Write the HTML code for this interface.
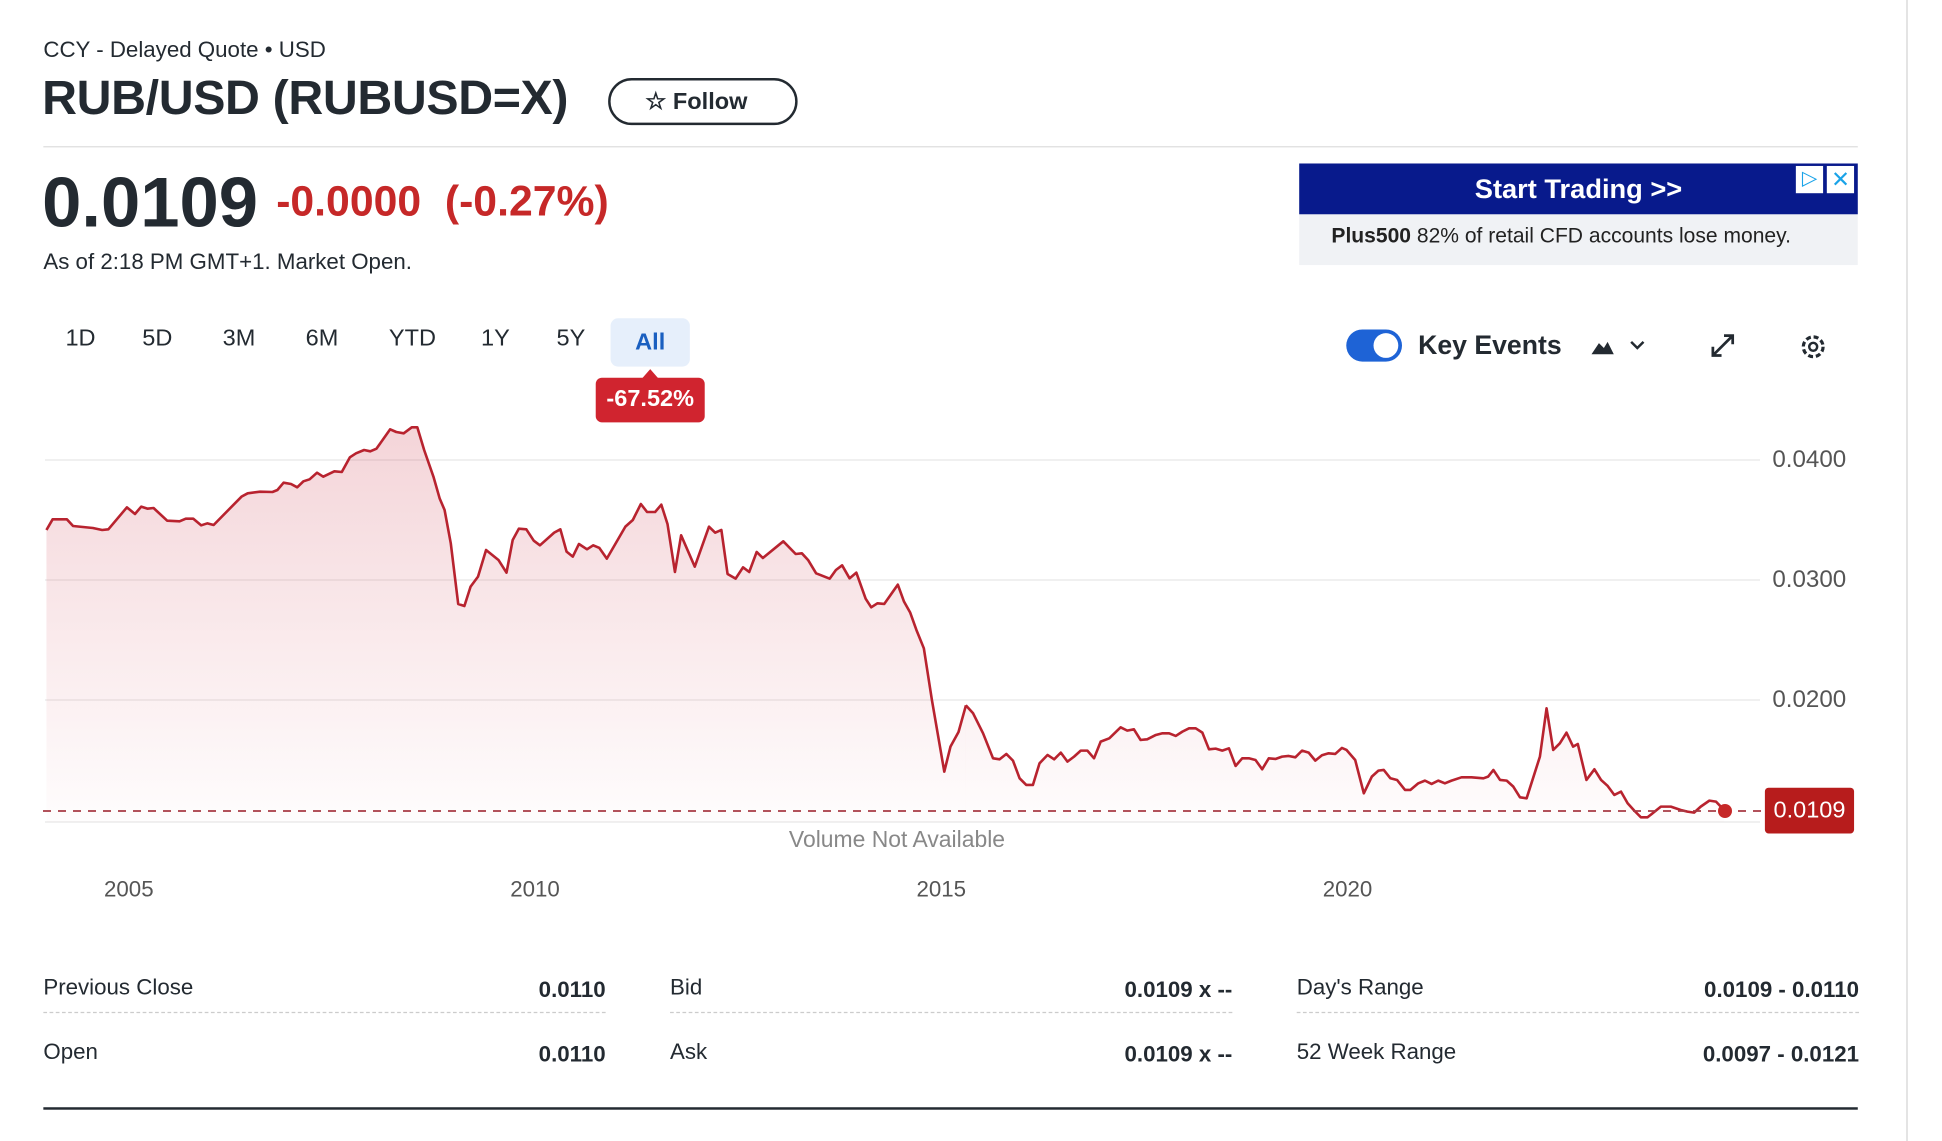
<!DOCTYPE html>
<html><head><meta charset="utf-8"><style>
html,body{margin:0;padding:0;background:#fff;width:1942px;height:1141px;overflow:hidden;font-family:"Liberation Sans",sans-serif;color:#232a31}
#w{position:absolute;left:0;top:0;width:1568px;height:921px;transform:scale(1.23852);transform-origin:0 0}
.a{position:absolute;white-space:nowrap}
.p{position:absolute;top:263px;font-size:19px;color:#232a31;transform:translateX(-50%)}
.yl{position:absolute;left:1431px;font-size:19.5px;color:#555}
.yr{position:absolute;top:708px;font-size:18px;color:#555;transform:translateX(-50%)}
.st{position:absolute;width:454px;height:30px;border-bottom:1px dashed #ccc;font-size:18px}
.st span{position:absolute;left:0;top:0}
.st b{position:absolute;right:0;top:2px;font-size:18px}
</style></head><body>
<svg style="position:absolute;left:0;top:0" width="1942" height="1141" viewBox="0 0 1942 1141">
<defs><linearGradient id="g" gradientUnits="userSpaceOnUse" x1="0" y1="60" x2="0" y2="1266"><stop offset="0" stop-color="#c8283c" stop-opacity="0.2"/><stop offset="1" stop-color="#c8283c" stop-opacity="0.01"/></linearGradient></defs>
<g stroke="#ececec" stroke-width="1.5"><line x1="45" y1="460" x2="1760" y2="460"/><line x1="45" y1="580" x2="1760" y2="580"/><line x1="45" y1="700" x2="1760" y2="700"/><line x1="45" y1="822" x2="1760" y2="822"/></g>
<g transform="translate(0,400) scale(0.6192,0.3333)">
<polygon fill="url(#g)" points="75,1266 75,390 85,358 108,358 118,378 150,384 165,390 175,388 205,322 218,342 228,320 238,326 248,324 270,362 290,364 300,356 312,356 325,376 335,370 345,375 390,290 400,280 420,275 440,276 448,270 458,248 470,252 480,262 490,244 500,238 512,218 522,230 540,214 552,216 565,172 575,160 588,150 598,154 608,146 630,88 640,96 652,100 665,82 674,82 685,150 700,230 710,295 718,330 728,430 740,612 750,618 760,560 772,530 785,450 805,480 818,518 828,420 838,386 850,388 862,422 872,436 895,398 905,388 915,455 925,470 935,432 948,448 958,436 968,444 980,476 1010,380 1022,360 1035,312 1045,336 1058,336 1068,314 1078,372 1090,516 1100,406 1122,500 1145,380 1155,398 1165,390 1175,522 1188,536 1200,502 1210,516 1222,456 1232,474 1265,424 1285,462 1295,460 1305,480 1318,520 1340,536 1350,510 1360,496 1372,535 1383,518 1398,596 1407,622 1417,610 1428,612 1450,554 1460,605 1470,638 1480,690 1492,745 1505,900 1525,1115 1535,1040 1548,996 1560,916 1560,1266"/>
<polyline fill="none" stroke="#b8232f" stroke-width="2.6" vector-effect="non-scaling-stroke" stroke-linejoin="round" points="75,390 85,358 108,358 118,378 150,384 165,390 175,388 205,322 218,342 228,320 238,326 248,324 270,362 290,364 300,356 312,356 325,376 335,370 345,375 390,290 400,280 420,275 440,276 448,270 458,248 470,252 480,262 490,244 500,238 512,218 522,230 540,214 552,216 565,172 575,160 588,150 598,154 608,146 630,88 640,96 652,100 665,82 674,82 685,150 700,230 710,295 718,330 728,430 740,612 750,618 760,560 772,530 785,450 805,480 818,518 828,420 838,386 850,388 862,422 872,436 895,398 905,388 915,455 925,470 935,432 948,448 958,436 968,444 980,476 1010,380 1022,360 1035,312 1045,336 1058,336 1068,314 1078,372 1090,516 1100,406 1122,500 1145,380 1155,398 1165,390 1175,522 1188,536 1200,502 1210,516 1222,456 1232,474 1265,424 1285,462 1295,460 1305,480 1318,520 1340,536 1350,510 1360,496 1372,535 1383,518 1398,596 1407,622 1417,610 1428,612 1450,554 1460,605 1470,638 1480,690 1492,745 1505,900 1525,1115 1535,1040 1548,996 1560,916"/>
</g>
<g transform="translate(900,400) scale(0.6645,0.3333)">
<polygon fill="url(#g)" points="99,1266 99,916 110,940 125,1000 140,1075 150,1078 160,1062 170,1082 180,1135 190,1155 200,1155 210,1090 222,1065 232,1078 242,1058 252,1085 262,1070 272,1052 282,1052 292,1075 302,1025 315,1015 332,982 342,992 352,988 362,1020 372,1018 385,1005 395,1000 405,1000 415,1008 425,995 435,985 445,985 455,998 465,1048 475,1046 485,1052 495,1045 505,1098 515,1075 525,1075 535,1080 545,1108 555,1075 565,1077 575,1070 585,1068 595,1072 605,1052 615,1058 625,1082 635,1066 645,1060 655,1062 665,1044 672,1050 685,1080 698,1180 710,1130 720,1112 728,1110 738,1135 748,1140 760,1170 768,1170 780,1150 790,1142 800,1152 810,1142 820,1150 830,1142 845,1132 860,1132 878,1135 885,1130 893,1110 903,1140 913,1142 923,1160 933,1192 943,1195 963,1070 973,925 983,1050 993,1030 1003,998 1013,1040 1020,1032 1033,1140 1045,1108 1055,1140 1065,1158 1075,1185 1085,1175 1095,1210 1105,1232 1115,1252 1125,1252 1145,1220 1160,1220 1175,1230 1185,1235 1195,1238 1205,1220 1218,1202 1228,1205 1240,1230 1240,1266"/>
<polyline fill="none" stroke="#b8232f" stroke-width="2.6" vector-effect="non-scaling-stroke" stroke-linejoin="round" points="99,916 110,940 125,1000 140,1075 150,1078 160,1062 170,1082 180,1135 190,1155 200,1155 210,1090 222,1065 232,1078 242,1058 252,1085 262,1070 272,1052 282,1052 292,1075 302,1025 315,1015 332,982 342,992 352,988 362,1020 372,1018 385,1005 395,1000 405,1000 415,1008 425,995 435,985 445,985 455,998 465,1048 475,1046 485,1052 495,1045 505,1098 515,1075 525,1075 535,1080 545,1108 555,1075 565,1077 575,1070 585,1068 595,1072 605,1052 615,1058 625,1082 635,1066 645,1060 655,1062 665,1044 672,1050 685,1080 698,1180 710,1130 720,1112 728,1110 738,1135 748,1140 760,1170 768,1170 780,1150 790,1142 800,1152 810,1142 820,1150 830,1142 845,1132 860,1132 878,1135 885,1130 893,1110 903,1140 913,1142 923,1160 933,1192 943,1195 963,1070 973,925 983,1050 993,1030 1003,998 1013,1040 1020,1032 1033,1140 1045,1108 1055,1140 1065,1158 1075,1185 1085,1175 1095,1210 1105,1232 1115,1252 1125,1252 1145,1220 1160,1220 1175,1230 1185,1235 1195,1238 1205,1220 1218,1202 1228,1205 1240,1230"/>
</g>
<line x1="43" y1="811" x2="1765" y2="811" stroke="#a83a44" stroke-width="1.8" stroke-dasharray="8,7"/>
<circle cx="1725" cy="811" r="7" fill="#c62828"/>
<line x1="1907" y1="0" x2="1907" y2="1141" stroke="#e4e4e4" stroke-width="2"/>
</svg>
<div id="w">
<div class="a" style="left:35px;top:30px;font-size:18px">CCY - Delayed Quote • USD</div>
<div class="a" style="left:34px;top:58px;font-size:39px;font-weight:bold;letter-spacing:-0.3px">RUB/USD (RUBUSD=X)</div>
<div class="a" style="left:491px;top:63px;width:149px;height:34px;border:2px solid #232a31;border-radius:20px;box-sizing:content-box"><span style="position:absolute;left:28px;top:6px;font-size:19px;font-weight:bold">☆ Follow</span></div>
<div class="a" style="left:35px;top:118px;width:1465px;height:1px;background:#ddd"></div>
<div class="a" style="left:34px;top:131px;font-size:57px;font-weight:bold;letter-spacing:0px">0.0109</div>
<div class="a" style="left:223px;top:144px;font-size:34.5px;font-weight:bold;color:#c62828">-0.0000 &nbsp;(-0.27%)</div>
<div class="a" style="left:35px;top:201px;font-size:18px">As of 2:18 PM GMT+1. Market Open.</div>
<div class="a" style="left:1049px;top:132px;width:451px;height:82px;background:#f0f2f5">
<div style="position:absolute;left:0;top:0;width:451px;height:41px;background:#081a8c;color:#fff;font-size:22px;font-weight:bold;text-align:center;line-height:42px">Start Trading &gt;&gt;</div>
<div style="position:absolute;left:401px;top:2px;width:22px;height:22px;background:#fff;color:#1aa3e8;font-size:16px;text-align:center;line-height:22px">▷</div>
<div style="position:absolute;left:426px;top:2px;width:22px;height:22px;background:#fff;color:#1aa3e8;font-size:18px;text-align:center;line-height:22px">✕</div>
<div style="position:absolute;left:26px;top:49px;font-size:17px;color:#222"><b>Plus500</b> 82% of retail CFD accounts lose money.</div>
</div>
<div class="p" style="left:65px">1D</div><div class="p" style="left:127px">5D</div><div class="p" style="left:193px">3M</div><div class="p" style="left:260px">6M</div><div class="p" style="left:333px">YTD</div><div class="p" style="left:400px">1Y</div><div class="p" style="left:461px">5Y</div>
<div class="a" style="left:493px;top:257px;width:64px;height:39px;background:#e6effb;border-radius:6px;color:#1a5fc0;font-weight:bold;font-size:19px;text-align:center;line-height:39px">All</div>
<div class="a" style="left:481px;top:305px;width:88px;height:36px;background:#d0242f;border-radius:5px;color:#fff;font-weight:bold;font-size:19px;text-align:center;line-height:36px">-67.52%</div>
<div class="a" style="left:518px;top:298px;width:0;height:0;border-left:7px solid transparent;border-right:7px solid transparent;border-bottom:8px solid #d0242f"></div>
<div class="a" style="left:1087px;top:266px;width:45px;height:26px;background:#1e63d6;border-radius:13px"><div style="position:absolute;left:22px;top:3px;width:20px;height:20px;border-radius:50%;background:#fff"></div></div>
<div class="a" style="left:1145px;top:267px;font-size:21.5px;font-weight:bold">Key Events</div>
<svg class="a" style="left:1283px;top:270px" width="50" height="20"><path d="M2 16 L8 7 L12 11 L15 6 L20 16 Z" fill="#232a31"/><path d="M34 6 L39 11 L44 6" fill="none" stroke="#232a31" stroke-width="2"/></svg>
<svg class="a" style="left:1380px;top:268px" width="22" height="22"><path d="M3 19 L19 3 M12 3 H19 V10 M3 12 V19 H10" fill="none" stroke="#232a31" stroke-width="2.2"/></svg>
<svg class="a" style="left:1452px;top:268px" width="24" height="24"><circle cx="12" cy="12" r="8" fill="none" stroke="#232a31" stroke-width="2.6" stroke-dasharray="4,2.3"/><circle cx="12" cy="12" r="3.2" fill="none" stroke="#232a31" stroke-width="2"/></svg>
<div class="yl" style="top:360px">0.0400</div><div class="yl" style="top:457px">0.0300</div><div class="yl" style="top:554px">0.0200</div>
<div class="a" style="left:1425px;top:636px;width:72px;height:37px;background:#b71c1c;border-radius:3px;color:#fff;font-size:19px;text-align:center;line-height:37px">0.0109</div>
<div class="a" style="left:637px;top:667px;font-size:18.5px;color:#888">Volume Not Available</div>
<div class="yr" style="left:104px">2005</div><div class="yr" style="left:432px">2010</div><div class="yr" style="left:760px">2015</div><div class="yr" style="left:1088px">2020</div>
<div class="st" style="left:35px;top:787px"><span>Previous Close</span><b>0.0110</b></div>
<div class="st" style="left:541px;top:787px"><span>Bid</span><b>0.0109 x --</b></div>
<div class="st" style="left:1047px;top:787px"><span>Day's Range</span><b>0.0109 - 0.0110</b></div>
<div class="st" style="left:35px;top:839px;border:0"><span>Open</span><b>0.0110</b></div>
<div class="st" style="left:541px;top:839px;border:0"><span>Ask</span><b>0.0109 x --</b></div>
<div class="st" style="left:1047px;top:839px;border:0"><span>52 Week Range</span><b>0.0097 - 0.0121</b></div>
<div class="a" style="left:35px;top:894px;width:1465px;height:2px;background:#232a31"></div>
</div>
</body></html>
